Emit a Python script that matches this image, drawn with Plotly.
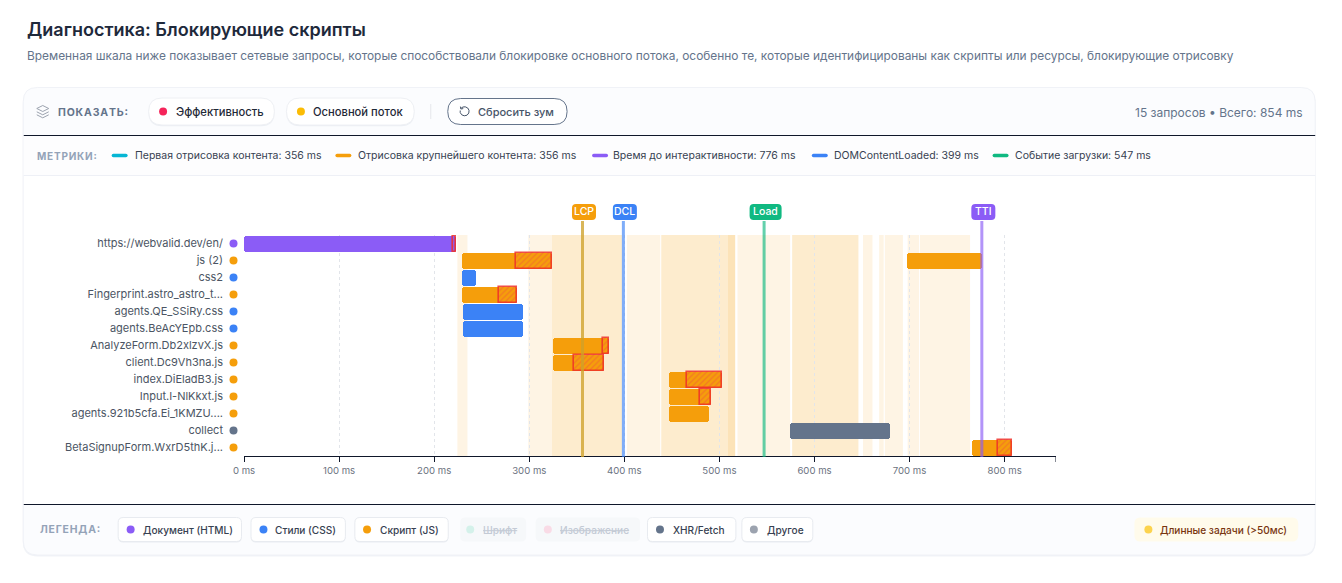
import plotly.graph_objects as go

# waterfall rows, top to bottom
ROW_LABELS = ['https://webvalid.dev/en/', 'js (2)', 'css2', 'Fingerprint.astro_astro_t...',
              'agents.QE_SSiRy.css', 'agents.BeAcYEpb.css', 'AnalyzeForm.Db2xlzvX.js',
              'client.Dc9Vh3na.js', 'index.DiEladB3.js', 'Input.I-NlKkxt.js',
              'agents.921b5cfa.Ei_1KMZU....', 'collect', 'BetaSignupForm.WxrD5thK.j...']
ROW_TYPES = ['doc', 'js', 'css', 'js', 'css', 'css', 'js', 'js', 'js', 'js', 'js', 'xhr', 'js']

# requests (js (2) has two bars)
BAR_ROWS = [0, 1, 1, 2, 3, 4, 5, 6, 7, 8, 9, 10, 11, 12]
BAR_STARTS = [0, 229.6, 697.4, 229.6, 229.6, 230, 230, 325.3, 325.3, 446.9, 446.9, 446.9, 574.4, 765.8]
BAR_ENDS = [223.4, 324.2, 776, 244.3, 287.4, 293, 293.4, 384, 378.2, 502.9, 491.4, 488.9, 679.9, 807.5]

# blocking part of each request
HATCH_ROWS = [0, 1, 3, 6, 7, 8, 9, 12]
HATCH_STARTS = [220, 285.7, 268.2, 377.1, 346.7, 465.8, 479.1, 793.4]
HATCH_ENDS = [223.4, 324.2, 287.4, 384, 378.2, 502.9, 491.4, 807.5]

# main thread tasks
LIGHT_TASK_STARTS = [224.4, 299, 402.7, 509, 519, 651, 668, 674, 698, 711]
LIGHT_TASK_ENDS = [235, 323, 437.8, 516.6, 574.4, 661, 672.8, 693, 710, 763.6]
STRONG_TASK_STARTS = [323.4, 438.8, 576.5]
STRONG_TASK_ENDS = [397.5, 516.6, 646.2]

METRIC_NAMES = ['FCP', 'LCP', 'DCL', 'Load', 'TTI']
METRIC_VALUES = [356, 356, 399, 547, 776]
METRIC_COLORS = ['#06b6d4', '#f59e0b', '#3b82f6', '#10b981', '#8b5cf6']
METRIC_BADGE_WIDTHS = [24, 24, 24, 32, 24]

TOTAL_MS = 854
TICKS = [0, 100, 200, 300, 400, 500, 600, 700, 800]

TYPE_COLORS = {'doc': '#8b5cf6', 'css': '#3b82f6', 'js': '#f59e0b', 'xhr': '#64748b'}

FONT = 'Inter'
W, H = 1342, 583
LEFT, RIGHT = 243.5, 1056.5
TOP, BOTTOM = 235, 456


# pixel position in the page -> paper coordinates
def px(x):
    return (x - LEFT) / (RIGHT - LEFT)


def py(y):
    return (BOTTOM - y) / (BOTTOM - TOP)


def rrect(x0, y0, x1, y1, r, fill, line=None, lw=1):
    p = (f'M {px(x0 + r)},{py(y0)} L {px(x1 - r)},{py(y0)} Q {px(x1)},{py(y0)} {px(x1)},{py(y0 + r)} '
         f'L {px(x1)},{py(y1 - r)} Q {px(x1)},{py(y1)} {px(x1 - r)},{py(y1)} '
         f'L {px(x0 + r)},{py(y1)} Q {px(x0)},{py(y1)} {px(x0)},{py(y1 - r)} '
         f'L {px(x0)},{py(y0 + r)} Q {px(x0)},{py(y0)} {px(x0 + r)},{py(y0)} Z')
    return dict(type='path', path=p, xref='paper', yref='paper', fillcolor=fill, layer='below',
                line=dict(color=line or 'rgba(0,0,0,0)', width=lw if line else 0))


def rect(x0, y0, x1, y1, fill):
    return dict(type='rect', xref='paper', yref='paper', x0=px(x0), x1=px(x1), y0=py(y1), y1=py(y0),
                fillcolor=fill, line_width=0, layer='below')


def poly(points, color, lw=1.0, fill='rgba(0,0,0,0)'):
    p = 'M ' + ' L '.join(f'{px(a)},{py(b)}' for a, b in points)
    return dict(type='path', path=p, xref='paper', yref='paper', fillcolor=fill, layer='above',
                line=dict(color=color, width=lw))


def dot(x, y, r, color):
    return dict(type='circle', xref='paper', yref='paper', x0=px(x - r), x1=px(x + r), y0=py(y + r), y1=py(y - r),
                fillcolor=color, line_width=0, layer='above')


def text(x, y, s, size, color, anchor='left', weight=400, **font):
    # annotations sit slightly inside their anchor
    x = x - 1 if anchor == 'left' else x + 1
    return dict(x=px(x), y=py(y), xref='paper', yref='paper', text=s, showarrow=False, xanchor=anchor,
                yanchor='middle', borderpad=0, align=anchor,
                font=dict(family=FONT, size=size, color=color, weight=weight, **font))


def spaced(s):
    return '\u200a'.join(s)


def pill(x0, y0, x1, y1):
    return [rrect(x0, y0 + 1.2, x1, y1 + 1.2, (y1 - y0) / 2, '#eceff4'),
            rrect(x0, y0, x1, y1, (y1 - y0) / 2, 'white', '#eef0f4', 1)]


def chip(x0, x1):
    return [rrect(x0, 518.5, x1, 542.5, 5, '#e9ecf1'),
            rrect(x0, 517.5, x1, 541.5, 5, 'white', '#e8ebf0', 1)]


fig = go.Figure()

# bars
fig.add_trace(go.Bar(
    y=[ROW_LABELS[r] for r in BAR_ROWS],
    base=BAR_STARTS,
    x=[e - s for s, e in zip(BAR_STARTS, BAR_ENDS)],
    orientation='h', width=16 / 17,
    marker=dict(color=[TYPE_COLORS[ROW_TYPES[r]] for r in BAR_ROWS], cornerradius=3, line_width=0),
))

# hatched overlay
fig.add_trace(go.Bar(
    y=[ROW_LABELS[r] for r in HATCH_ROWS],
    base=HATCH_STARTS,
    x=[e - s for s, e in zip(HATCH_STARTS, HATCH_ENDS)],
    orientation='h', width=16 / 17,
    marker=dict(color='rgba(0,0,0,0)', line=dict(color='rgba(239,48,40,0.85)', width=1.6),
                pattern=dict(shape='/', fgcolor='rgba(239,68,68,0.75)', bgcolor='rgba(0,0,0,0)', size=4, solidity=0.35)),
))

shapes = []
# card
shapes += [rrect(22, 88.5, 1316.5, 556.5, 15, '#f1f3f7'),
           rrect(22.5, 87.5, 1316, 555, 14, '#fbfcfe', '#f0f2f7', 1),
           rect(23, 135, 1316, 504, 'white'),
           rect(23, 136, 1316, 175, '#fdfdfe'),
           rect(23, 175, 1316, 176, '#eef0f6'),
           rect(23, 135, 1316, 136, '#0f172a'),
           rect(23, 504, 1316, 505, '#0f172a')]
# header controls
shapes += pill(148, 98, 274, 125) + pill(286, 98, 414, 125)
shapes += [rect(430, 104, 431, 119, '#e5e7eb'),
           rrect(447.5, 98.5, 567, 124.5, 13, 'white', '#64748b', 1)]
# legend chips
shapes += chip(117.5, 241) + chip(250.5, 345) + chip(354.5, 448) + chip(647.5, 736) + chip(742, 813)
shapes += [rrect(460, 517.5, 526, 541.5, 5, '#f6f8fa'), rrect(535.5, 517.5, 640, 541.5, 5, '#f6f8fa'),
           rrect(1135, 517.5, 1299, 541.5, 6, '#fffbeb')]
# metric strip dashes
for x0, c in zip([111, 335, 592, 812, 993], ['#06b6d4', '#f59e0b', '#8b5cf6', '#3b82f6', '#10b981']):
    shapes.append(rrect(x0, 153.8, x0 + 16, 157.2, 1.7, c))

# main thread bands
for s, e in zip(LIGHT_TASK_STARTS, LIGHT_TASK_ENDS):
    shapes.append(dict(type='rect', xref='x', yref='paper', x0=s, x1=e, y0=0, y1=1,
                       fillcolor='rgba(245,158,11,0.11)', line_width=0, layer='below'))
for s, e in zip(STRONG_TASK_STARTS, STRONG_TASK_ENDS):
    shapes.append(dict(type='rect', xref='x', yref='paper', x0=s, x1=e, y0=0, y1=1,
                       fillcolor='rgba(245,158,11,0.2)', line_width=0, layer='below'))

# end tick of the axis
shapes.append(dict(type='line', xref='x', yref='paper', x0=TOTAL_MS, x1=TOTAL_MS, y0=py(456), y1=py(462),
                   line=dict(color='#0f172a', width=1)))

# row dots left of the axis
for label, t in zip(ROW_LABELS, ROW_TYPES):
    shapes.append(dict(type='circle', xref='paper', yref='y', x0=px(229), x1=px(237), ysizemode='pixel',
                       yanchor=label, y0=-4, y1=4, fillcolor=TYPE_COLORS[t], line_width=0, layer='above'))

# metric lines and badges
annotations = []
for name, v, c, bw in zip(METRIC_NAMES, METRIC_VALUES, METRIC_COLORS, METRIC_BADGE_WIDTHS):
    # FCP sits right under LCP, only a tint of it shows through
    shapes.append(dict(type='line', xref='x', yref='paper', x0=v, x1=v, y0=py(457), y1=py(221),
                       line=dict(color=c, width=3), opacity=0.35 if name == 'FCP' else 0.65, layer='above'))
    if name == 'FCP':
        continue
    x0 = -bw / 2 + 1.5
    x1 = bw / 2 + 1.5
    r = 4
    path = (f'M {x0 + r},-8 L {x1 - r},-8 Q {x1},-8 {x1},-4 L {x1},4 Q {x1},8 {x1 - r},8 '
            f'L {x0 + r},8 Q {x0},8 {x0},4 L {x0},-4 Q {x0},-8 {x0 + r},-8 Z')
    shapes.append(dict(type='path', path=path, xref='x', yref='paper', xsizemode='pixel', ysizemode='pixel',
                       xanchor=v, yanchor=py(212), fillcolor=c, line_width=0, layer='above'))
    annotations.append(dict(x=v, y=py(212), xref='x', yref='paper', xshift=1.5, text=name, showarrow=False,
                            xanchor='center', yanchor='middle', borderpad=0,
                            font=dict(family=FONT, size=10.5, color='white', weight=500)))

# icons
shapes += [poly([(36, 108.5), (42, 105.5), (48, 108.5), (42, 111.5), (36, 108.5)], '#9ca3af'),
           poly([(36, 111.8), (42, 114.8), (48, 111.8)], '#9ca3af'),
           poly([(36, 114.8), (42, 117.8), (48, 114.8)], '#9ca3af')]
shapes.append(poly([(461, 108), (462.8, 107), (465, 106.8), (467.5, 108), (468.8, 110.3), (468.6, 113),
                    (466.8, 115.2), (464, 115.8), (461.5, 114.8), (460, 112.6), (460, 110.5)], '#475569'))
shapes.append(poly([(460.2, 106.6), (460.6, 109), (463, 108.6)], '#475569'))

# header dots
shapes += [dot(162.5, 111.5, 4, '#f5245a'), dot(300.5, 111.5, 4, '#fbbc05')]
# legend dots
for x, c in [(130, '#8b5cf6'), (263, '#3b82f6'), (366.7, '#f59e0b'), (470, '#d4f1ea'), (547.7, '#f9dbe6'),
             (660, '#64748b'), (754, '#9ca3af'), (1149, '#fcd34d')]:
    shapes.append(dot(x, 529.5, 4, c))

annotations += [
    text(26, 29, 'Диагностика: Блокирующие скрипты', 18, '#1e293b', weight=600),
    text(26, 55, 'Временная шкала ниже показывает сетевые запросы, которые способствовали блокировке основного '
                 'потока, особенно те, которые идентифицированы как скрипты или ресурсы, блокирующие отрисовку',
         11.9, '#64748b'),
    text(57, 112, spaced('ПОКАЗАТЬ:'), 10.5, '#64748b', weight=700),
    text(175, 111.5, 'Эффективность', 11.2, '#1f2937', weight=500),
    text(313, 111.5, 'Основной поток', 11.2, '#1f2937', weight=500),
    text(478, 111.5, 'Сбросить зум', 11, '#475569', weight=500),
    text(1304, 112, '15 запросов • Всего: 854 ms', 12, '#64748b', anchor='right'),
    text(36, 155.5, spaced('МЕТРИКИ:'), 10, '#94a3b8', weight=700),
    text(134, 155.5, 'Первая отрисовка контента: 356 ms', 10.5, '#374151'),
    text(358, 155.5, 'Отрисовка крупнейшего контента: 356 ms', 10.5, '#374151'),
    text(613, 155.5, 'Время до интерактивности: 776 ms', 10.5, '#374151'),
    text(834, 155.5, 'DOMContentLoaded: 399 ms', 10.5, '#374151'),
    text(1015, 155.5, 'Событие загрузки: 547 ms', 10.5, '#374151'),
    text(39, 529.5, spaced('ЛЕГЕНДА:'), 10.4, '#94a3b8', weight=700),
    text(142, 529.5, 'Документ (HTML)', 10.1, '#374151', weight=500),
    text(274.7, 529.5, 'Стили (CSS)', 10.1, '#374151', weight=500),
    text(380, 529.5, 'Скрипт (JS)', 10.1, '#374151', weight=500),
    text(482.7, 529.5, 'Шрифт', 10.1, '#c3cad5', weight=500, lineposition='through'),
    text(559.7, 529.5, 'Изображение', 10.1, '#c3cad5', weight=500, lineposition='through'),
    text(673, 529.5, 'XHR/Fetch', 10.1, '#374151', weight=500),
    text(767, 529.5, 'Другое', 10.1, '#374151', weight=500),
    text(1161, 529.5, 'Длинные задачи (>50мс)', 10.1, '#78350f', weight=500),
]

fig.update_layout(
    width=W, height=H, autosize=False,
    margin=dict(l=LEFT, r=W - RIGHT, t=TOP, b=H - BOTTOM, pad=0),
    paper_bgcolor='white', plot_bgcolor='rgba(0,0,0,0)',
    barmode='overlay', showlegend=False, bargap=0,
    shapes=shapes, annotations=annotations,
    font=dict(family=FONT),
    xaxis=dict(range=[0, TOTAL_MS], tickvals=TICKS, ticktext=[f'{t} ms' for t in TICKS],
               showgrid=True, gridcolor='#e2e5ea', griddash='dot', gridwidth=1,
               zeroline=False, showline=True, linecolor='#0f172a', linewidth=1,
               ticks='outside', ticklen=5, tickcolor='#0f172a', tickwidth=1,
               tickfont=dict(family=FONT, size=9.6, color='#6b7280')),
    yaxis=dict(categoryorder='array', categoryarray=ROW_LABELS, range=[12.5, -0.5],
               showgrid=False, zeroline=False, showline=False, ticks='', ticklabelstandoff=20,
               tickfont=dict(family=FONT, size=11, color='#4b5563')),
)

fig.write_html("out.html", post_script="document.body.style.margin='0';document.body.style.overflow='hidden';",
               config=dict(displayModeBar=False))
